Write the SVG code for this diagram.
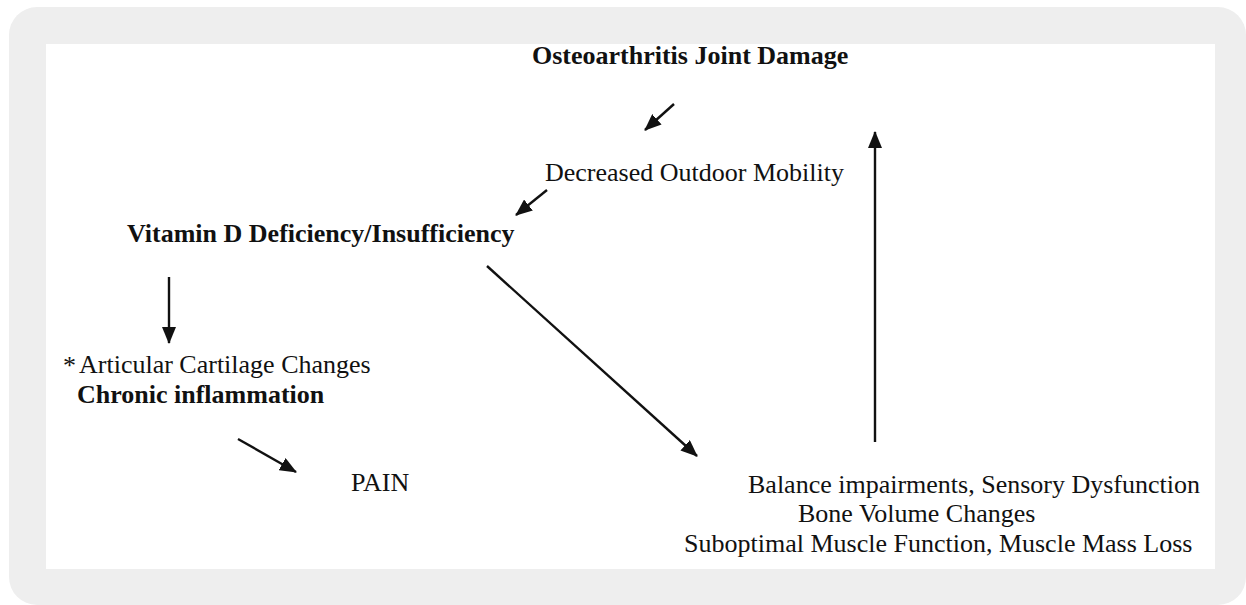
<svg xmlns="http://www.w3.org/2000/svg" width="1246" height="605" viewBox="0 0 1246 605">
<defs>
<style>
.t{font-family:"Liberation Serif","Times New Roman",serif;font-size:26px;fill:#111}
.b{font-weight:bold}
.c{stroke:#111;stroke-width:2.4;fill:none;marker-end:url(#ah)}
</style>
<marker id="ah" markerUnits="userSpaceOnUse" markerWidth="17" markerHeight="14" viewBox="0 0 17 14" refX="16" refY="7" orient="auto">
<path d="M0,0 L17,7 L0,14 Z" fill="#111"/>
</marker>
</defs>
<rect x="9" y="7" width="1237" height="598" rx="28" ry="28" fill="#eeeeee"/>
<rect x="46" y="44" width="1169" height="525" fill="#ffffff"/>
<g id="connectors">
<line class="c" x1="674" y1="104" x2="645" y2="130"/>
<line class="c" x1="547" y1="190" x2="516" y2="215"/>
<line class="c" x1="169" y1="277" x2="169" y2="343"/>
<line class="c" x1="487" y1="266" x2="697" y2="456"/>
<line class="c" x1="238" y1="439" x2="296" y2="472"/>
<line class="c" x1="875" y1="442" x2="875" y2="132"/>
</g>
<g id="oa"><text class="t b" x="532" y="64">Osteoarthritis Joint Damage</text></g>
<g id="mobility"><text class="t" x="545" y="181">Decreased Outdoor Mobility</text></g>
<g id="vitd"><text class="t b" x="127" y="242">Vitamin D Deficiency/Insufficiency</text></g>
<g id="cartilage"><text class="t" x="63" y="374" font-size="28">*</text><text class="t" x="79" y="373">Articular Cartilage Changes</text>
<text class="t b" x="77" y="403">Chronic inflammation</text></g>
<g id="pain"><text class="t" x="351" y="491">PAIN</text></g>
<g id="effects"><text class="t" x="748" y="493">Balance impairments, Sensory Dysfunction</text>
<text class="t" x="798" y="522">Bone Volume Changes</text>
<text class="t" x="684" y="552">Suboptimal Muscle Function, Muscle Mass Loss</text></g>
</svg>
